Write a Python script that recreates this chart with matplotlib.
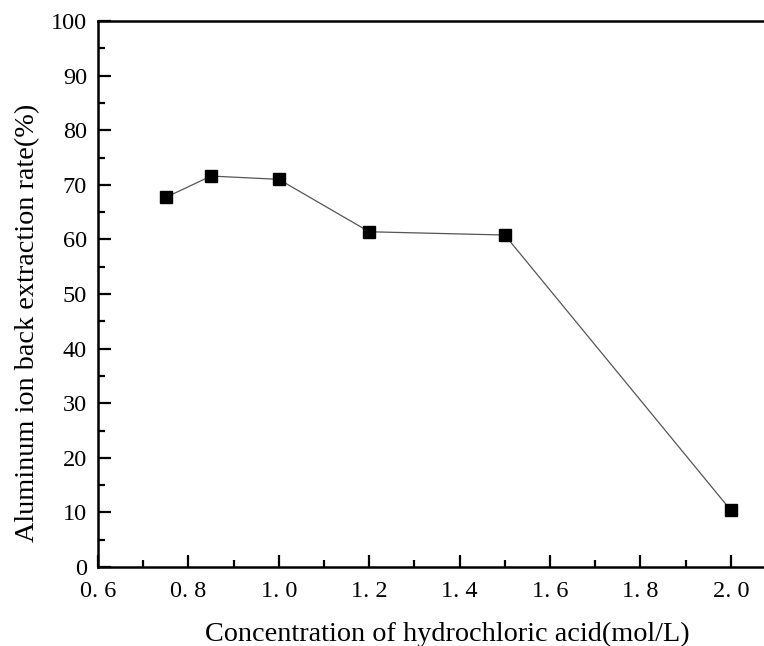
import numpy as np
import matplotlib
matplotlib.use("Agg")
import matplotlib.pyplot as plt
from matplotlib.ticker import MultipleLocator, FuncFormatter

# hydrochloric acid concentration (mol/L) vs Al back extraction rate (%)
hcl_conc = [0.75, 0.85, 1.0, 1.2, 1.5, 2.0]
back_extraction = [67.7, 71.6, 71.0, 61.4, 60.8, 10.4]

plt.rcParams['font.family'] = ['Liberation Serif', 'DejaVu Serif']

fig = plt.figure(figsize=(7.64, 6.46), dpi=100)
ax = fig.add_axes([98 / 764, 1 - 567 / 646, 678 / 764, 546 / 646])

ax.plot(hcl_conc, back_extraction, color='#555555', lw=0.9,
        marker='s', ms=8.5, mfc='black', mec='black', zorder=3)

ax.set_xlim(0.6, 2.1)
ax.set_ylim(0, 100)
ax.xaxis.set_major_locator(MultipleLocator(0.2))
ax.xaxis.set_minor_locator(MultipleLocator(0.1))
ax.yaxis.set_major_locator(MultipleLocator(10))
ax.yaxis.set_minor_locator(MultipleLocator(5))
ax.xaxis.set_major_formatter(FuncFormatter(lambda v, p: ('%.1f' % v).replace('.', '. ')))

ax.tick_params(which='both', direction='in', top=False, right=False,
               width=1.6, labelsize=17.5)
ax.tick_params(which='major', length=9)
ax.tick_params(which='minor', length=5)
ax.tick_params(axis='x', pad=10)
ax.tick_params(axis='y', pad=8)

for side in ['left', 'bottom', 'top']:
    ax.spines[side].set_linewidth(1.8)
ax.spines['right'].set_visible(False)

ax.set_xlabel('Concentration of hydrochloric acid(mol/L)', fontsize=20.3)
ax.set_ylabel('Aluminum ion back extraction rate(%)', fontsize=20.3)
ax.xaxis.set_label_coords(0.515, -0.1)
ax.yaxis.set_label_coords(-0.085, 0.447)

fig.savefig('out.png', dpi=100)
